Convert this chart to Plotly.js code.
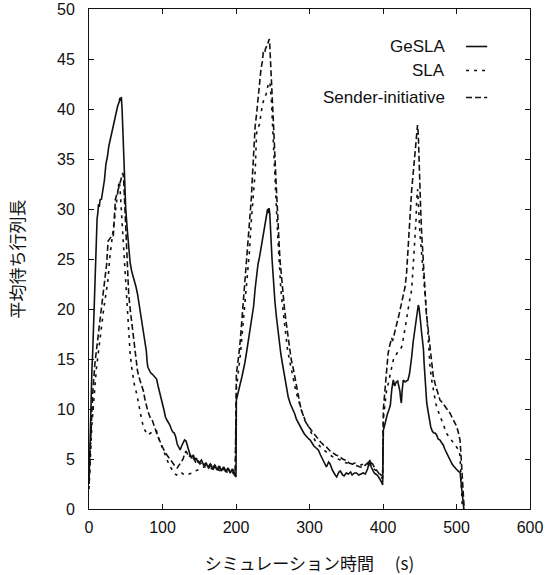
<!DOCTYPE html>
<html>
<head>
<meta charset="utf-8">
<script src="https://cdn.plot.ly/plotly-3.0.1.min.js"></script>
<style>html,body{margin:0;padding:0;background:#fff;}#chart{width:545px;height:575px;}</style>
</head>
<body>
<div id="chart"></div>
<script>
// ---- Data ----
const seriesNames = ["GeSLA", "SLA", "Sender-initiative"];
const xTicks = [0, 100, 200, 300, 400, 500, 600];
const yTicks = [0, 5, 10, 15, 20, 25, 30, 35, 40, 45, 50];

const geslaX = [0,1,2,3,4,5,6,7,8,9,10,11,12,13,14,15,17,19,21,23,25,27,29,31,33,35,37,39,41,42,43,44,45,46,47,48,50,52,54,56,58,60,62,64,66,68,70,72,74,76,78,79,80,82,84,86,88,90,92,94,96,98,100,102,104,106,108,110,112,114,116,118,120,122,124,126,128,130,132,134,136,138,140,142,144,146,148,150,153,156,159,162,165,168,171,174,177,180,183,186,189,192,195,197,199,200,
200.5,202,204,206,208,210,212,214,216,218,220,222,224,226,228,230,232,234,236,238,240,242,243,244,245,246,247,248,249,250,251,253,255,257,259,261,263,265,267,269,271,274,276,278,280,282,284,287,290,293,296,299,301,304,306,309,312,315,318,321,323,326,328,331,333,335,337,340,342,345,347,350,353,356,358,361,364,367,370,373,376,379,381,382,384,386,388,390,392,394,396,398,399.5,
400.5,402,404,406,408,410,412,413,414,416,418,420,422,423,424,425,426,427.6,430,432,434,436,438,439,441,443,445,447,448,449,450,451,452,454,455,456,457,458,459.5,461,463,465,467,469,471,473,475,477.5,480,482,484,486.7,488,490,492,494,496,498,500,502,504,505,506,507,508,509,510];
const geslaY = [2.5,6,9,12,14,15.6,18,21,23,25,27,29,29.6,30.5,30.2,30.9,31,32,32.9,34.5,35.2,36.3,37,37.8,38.3,39,39.6,40.3,40.7,41.1,40.8,41.2,40,37.5,35,32.9,30,28,26,24.6,23.8,23.3,22.9,22.2,21.5,20.6,19.8,18.8,18,17,15.8,14.8,14.2,13.9,13.6,13.5,13.3,13.2,13,12.3,11.6,11,10.5,9.9,9.2,8.9,8.7,8.4,8,7.7,7.6,7.2,6.5,6.1,5.9,6.3,6.6,6.9,6.8,6.2,5.6,5.3,5.2,5.4,4.9,5.1,4.7,4.6,4.9,4.4,4.6,4.2,4.5,4.1,4.4,3.9,4.3,3.8,4.2,3.7,4.1,3.6,4.0,3.5,3.3,3.2,
10.9,11.3,11.8,12.6,13.2,13.8,14.6,15.5,16.5,17.4,18.3,19.5,20.3,22,23.5,24.5,25.2,26,27,27.8,28.5,29.3,30,29.6,30.1,29.5,28.5,26.5,25,23.8,22.9,20.7,19.2,17.8,16.5,15.5,14.6,13.8,12.8,11.9,11.2,10.5,10.2,9.9,9.5,9,8.7,8.2,7.9,7.5,7.2,7,6.9,6.5,6.3,6.1,5.9,5.4,5.0,4.6,4.2,4.7,4.5,3.9,3.6,3.4,3.2,3.7,3.8,3.4,3.3,3.6,3.5,3.7,3.4,3.6,3.6,3.4,3.5,3.6,3.5,4.0,4.6,4.9,4.2,3.8,3.6,3.5,3.4,3.2,3.0,2.7,2.4,
7.9,8.3,9,9.5,9.9,10.4,12,12.4,12.9,12.3,12.7,12.8,12.2,11.8,11,10.6,11.8,12.9,12.7,12.8,12.9,13.5,14.5,15.2,16.7,17.8,19,20,20.4,20.1,19.6,18.8,18,16.8,16,14.5,13,11.8,10.6,9.9,9,8.2,7.8,7.6,7.6,7.4,7,6.9,6.6,6.4,6,5.6,5.3,5,4.7,4.5,4.3,4.1,4.0,3.8,3.7,3.6,2.8,2,1.2,0.4,0];

const slaX = [0,1,2,3,4,5,6,8,10,12,14,16,18,20,22,24,26,28,30,32,34,36,38,40,41,42,43,44,46,48,50,52,54,56,58,60,62,65,68,70,72,75,78,80,82,85,88,90,92,94,96,98,100,102,105,108,110,112,115,117,119,122,125,128,132,136,140,144,148,152,156,160,164,168,172,176,180,184,188,192,196,199,
200.5,203,206,209,212,215,218,221,224,226,228,230,232,235,238,241,243,244,246,247,248,250,252,254,255,257,258,261,263,265,268,270,273,275,278,280,283,285,288,290,293,296,299,302,305,308,311,315,318,322,326,330,334,338,342,346,350,355,358,362,366,370,374,378,381,384,387,390,393,395,397,399.5,
400.5,403,405,407,410,412,414,416,418,420,422,424,425.4,427,429,431,432,434,435,437,439,441,442,443.5,445,445.8,446.5,447,448,449,450,452,453.5,455,457,459,461,462,464,466,468,470,472,475,478,481,484,487,489,491,493,496,498,500,502,504,505,506,507,508];
const slaY = [2,4.5,6,7,8.5,9.5,11,12.5,14,15.2,16.5,17.5,18.8,20,21,22,23,25,26.2,27.2,28.3,29.5,31,32.5,32.8,32.3,31,30,28,25,22,19.5,17.5,15.5,14.2,13,12.3,11.5,10.3,9.5,8.8,8,7.6,7.4,7.5,7.7,7.8,7.9,7.8,7.2,6.8,6.4,6,5.6,5,4.6,4.3,4,3.7,3.5,3.4,3.6,3.7,3.5,3.6,3.5,3.6,3.8,3.9,4.1,4.2,4.2,4.1,4,4.1,3.9,3.8,3.9,3.7,3.8,3.6,3.5,
12,13.5,15.5,18,20.5,23,25.5,29,32,33.6,37.6,38,38.5,40,41,41.5,42.2,42.5,42.7,42,41,38,34,31.5,30,27,25.5,22,20.5,19,17,16,14.8,14,13,12.3,11.4,10.8,10,9.6,9.1,8.6,8.1,7.6,7.2,6.8,6.5,6.2,6,5.7,5.5,5.3,5.1,5,4.9,4.7,4.6,4.5,4.5,4.6,4.5,4.4,4.5,4.6,4.4,4.2,4,3.8,3.7,3.6,3.4,3.2,
9,11,12,12.5,13.5,14.2,14.9,15.2,15.5,15.7,15.8,16,16.2,16.8,17.5,18.4,18.9,19.9,20.5,21.2,21.9,24,25.2,26.6,29,30.9,31.8,32,30.8,29,27.8,26,24.8,23.5,21.6,19.9,17.8,16.5,14.2,13,12,11.2,10.5,9.8,9.2,8.5,7.9,7.5,7.3,7.1,6.9,6.6,6.4,6.2,6,5.8,5,3.5,1.8,0];

const senderX = [0,1,2,3,4,5,6,8,10,12,14,16,18,20,22,24,26,28,30,32,33,34,35,36,38,40,42,44,45,46,47,48,49,50,51,52,53,54,56,58,60,62,64,66,68,70,72,74,76,78,80,82,84,86,88,90,92,94,96,98,100,102,104,106,108,110,112,114,116,118,120,122,124,126,128,130,132,134,136,138,140,142,145,148,151,154,157,160,163,166,169,172,175,178,181,184,187,190,193,196,199,
200.5,202,204,206,208,210,212,214,216,218,220,221,222,223.5,225,226,228,230,232,234,236,237,239,240,242,244,245.3,246,247,248.5,250,251,253,254,256,257,259,260,262,264,266,268,271,273,275,278,280,282.6,285,287,289,291.6,294,298,301,305,308,312,315,318,320,323,326,328,330,332,336,340,343,345,348,350,354,358,361,365,369,373,376,378,380,382,384,386,388,390,393,395,397,399.5,
400.5,402.7,404,405,407,409,411.8,413,415,418,420,422,425,427.6,430,432,433,434.4,436,437,439,441,443,445,446,447,448,448.5,449,450,451,452.6,454,455,457,459,461.6,463,465,467,468.5,471,473,475,477.5,480,483,486,488.8,491,493,495,498,500,502,504,504.8,506,507,508,509,510.5];
const senderY = [2.5,5,7,8.5,10,11.5,12.8,14.5,15.8,17,18.2,19.5,20.5,21.8,23.2,24.5,26.8,27,27.2,27.4,27.3,28.5,30,31,31.5,32,32.5,33,33.5,33.6,33.2,31.5,30,28.8,27,25,23,21.5,20,18.8,17.2,15.8,14.8,13.8,13.2,12.8,12.3,11.8,11,10.2,9.8,9.4,9,8.9,8.4,8,7.6,7.2,6.8,6.5,6.2,5.9,5.6,5.4,5.2,5,4.7,4.5,4.3,4.2,4.1,4.3,4.5,4.8,5,5.5,5.8,5.5,5.2,5.4,4.9,5.1,4.7,4.9,4.5,4.7,4.3,4.5,4.1,4.4,4,4.3,3.9,4.2,3.8,4.1,3.7,4,3.6,3.9,3.5,
13.5,14.2,15.5,17,18.8,20.5,22.5,24.2,26.2,28.5,30.3,31.2,32.8,35.2,36.8,38.2,39.5,41,42.8,44,44.8,45.6,45.5,46,46.3,46.7,47,46.3,45,42.6,40,38.5,35.9,33.5,30.5,28.5,26,24.8,22.9,21.4,20,18.8,17.2,16,15,14,13.2,11.9,11,10.5,9.9,9.2,8.8,8.3,8,7.6,7.3,7,6.7,6.5,6.3,6.2,5.9,5.8,5.7,5.6,5.4,5.3,5.1,5,4.9,4.9,4.6,4.5,4.4,4.3,4.2,4.2,4.4,4.5,4.7,4.8,4.6,4.5,4.2,4,3.8,3.5,3.3,3,
10,11.9,13,14,15.6,16.3,17.1,16.8,17.5,18.5,18.9,19.5,20.5,21.2,22.2,23.5,25,26.9,28.5,29.5,31.9,33.5,35.5,37.2,37.8,38.4,37.5,36,34,32.2,30.5,27.6,25.8,24.5,21.9,19.5,17.9,16.6,15.5,14.2,13.2,12.5,12,11.5,10.9,10.7,10.4,10.2,9.9,9.6,9.3,9,8.6,8.3,7.8,7.2,6.9,5.5,4.2,3,1.5,0];

// ---- Chart ----
const BLACK = "#111";
const traces = [
  {x: geslaX, y: geslaY, name: seriesNames[0], mode: "lines",
   line: {color: BLACK, width: 1.6, dash: "solid"}},
  {x: slaX, y: slaY, name: seriesNames[1], mode: "lines",
   line: {color: BLACK, width: 1.6, dash: "3px,5px"}},
  {x: senderX, y: senderY, name: seriesNames[2], mode: "lines",
   line: {color: BLACK, width: 1.6, dash: "6px,3px"}}
];

const tickFont = {family: "Liberation Sans, Arial, sans-serif", size: 16, color: BLACK};
const jpFont = {family: "Noto Sans CJK JP, sans-serif", size: 17, color: BLACK};

const legendRows = [0.925, 0.877, 0.823];
const legendDash = ["solid", "3px,5px", "6px,3px"];
const annotations = seriesNames.map((n, i) => ({
  xref: "paper", yref: "paper", x: 0.812, y: legendRows[i],
  xanchor: "right", yanchor: "middle", showarrow: false,
  text: n, font: {family: "Liberation Sans, Arial, sans-serif", size: 17, color: BLACK}
}));
const shapes = seriesNames.map((n, i) => ({
  type: "line", xref: "paper", yref: "paper",
  x0: 0.855, x1: 0.903, y0: legendRows[i], y1: legendRows[i],
  line: {color: BLACK, width: 1.6, dash: legendDash[i]}
}));

const layout = {
  width: 545, height: 575,
  margin: {l: 89, r: 15, t: 9, b: 66},
  paper_bgcolor: "#fff", plot_bgcolor: "#fff",
  showlegend: false,
  xaxis: {
    range: [0, 600], tickvals: xTicks, ticktext: xTicks.map(String),
    ticks: "inside", ticklen: 5, tickcolor: BLACK, mirror: "ticks",
    showline: true, linecolor: BLACK, linewidth: 1,
    showgrid: false, zeroline: false, tickfont: tickFont,
    ticklabelstandoff: 4,
    title: {text: "シミュレーション時間\u3000 (s)", font: jpFont, standoff: 24},
    automargin: false, fixedrange: true
  },
  yaxis: {
    range: [0, 50], tickvals: yTicks, ticktext: yTicks.map(String),
    ticks: "inside", ticklen: 5, tickcolor: BLACK, mirror: "ticks",
    showline: true, linecolor: BLACK, linewidth: 1,
    showgrid: false, zeroline: false, tickfont: tickFont,
    ticklabelstandoff: 10,
    title: {text: "平均待ち行列長", font: jpFont, standoff: 28},
    automargin: false, fixedrange: true
  },
  annotations: annotations,
  shapes: shapes
};

Plotly.newPlot("chart", traces, layout, {staticPlot: true, displayModeBar: false});
</script>
</body>
</html>
